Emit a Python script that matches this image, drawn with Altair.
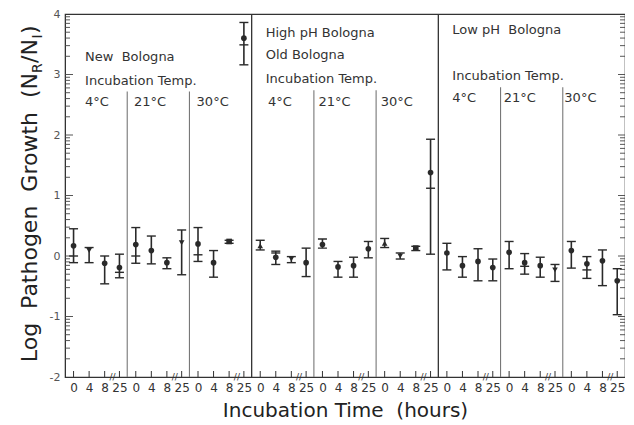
import math
import altair as alt
import pandas as pd

FONT = "DejaVu Sans"
INK = "#2a2a2a"
NB = "\u00a0"

# ---- data ----
time_labels = ["0", "4", "8", "25"]
slot_offsets = [0.55, 1.55, 2.55, 3.5]   # slot of each time inside a temperature block

# 9 blocks (New 4/21/30, Old 4/21/30, Low pH 4/21/30) x 4 times
means = [0.17, 0.09, -0.12, -0.19,
         0.19, 0.09, -0.11, 0.22,
         0.20, -0.11, 0.24, 3.60,
         0.17, -0.02, -0.05, -0.11,
         0.19, -0.18, -0.16, 0.12,
         0.21, 0.00, 0.13, 1.38,
         0.05, -0.16, -0.09, -0.19,
         0.06, -0.11, -0.16, -0.23,
         0.09, -0.13, -0.08, -0.41]
upper = [0.45, 0.14, 0.00, 0.03,
         0.47, 0.33, -0.03, 0.43,
         0.47, 0.09, 0.26, 3.86,
         0.26, 0.08, -0.01, 0.13,
         0.28, -0.09, -0.02, 0.24,
         0.29, 0.05, 0.16, 1.93,
         0.21, -0.01, 0.12, -0.05,
         0.24, 0.04, -0.02, -0.14,
         0.24, -0.01, 0.10, -0.21]
lower = [-0.11, -0.11, -0.46, -0.36,
         -0.12, -0.13, -0.21, -0.31,
         -0.09, -0.35, 0.21, 3.16,
         0.10, -0.14, -0.11, -0.34,
         0.13, -0.35, -0.35, -0.03,
         0.14, -0.05, 0.09, 0.03,
         -0.23, -0.35, -0.41, -0.41,
         -0.21, -0.30, -0.35, -0.42,
         -0.20, -0.37, -0.49, -0.97]
shapes = ["circle", "triangle-down", "circle", "circle",
          "circle", "circle", "circle", "triangle-down",
          "circle", "circle", "square", "circle",
          "triangle-up", "circle", "triangle-down", "circle",
          "circle", "circle", "circle", "circle",
          "triangle-up", "triangle-down", "square", "circle",
          "circle", "circle", "circle", "circle",
          "circle", "circle", "circle", "triangle-down",
          "circle", "circle", "circle", "circle"]
cross_index = [0, 3, 4, 8, 11, 13, 23, 29, 33]
cross_value = [0.00, -0.27, 0.00, 0.02, 3.49, 0.05, 1.12, -0.17, -0.23]

# block dividers
sub_div_x = [4, 8, 16, 20, 28, 32]
sub_div_top = [2.72, 2.72, 2.74, 2.74, 2.79, 2.79]
panel_div_x = [12, 24]

# annotation texts (x in block units, y in data units)
ann_text = ["New" + NB + NB + "Bologna", "Incubation Temp.", "4°C", "21°C", "30°C",
            "High pH Bologna", "Old Bologna", "Incubation Temp.", "4°C", "21°C", "30°C",
            "Low pH" + NB + NB + "Bologna", "Incubation Temp.", "4°C", "21°C", "30°C"]
ann_x = [1.29, 1.29, 1.29, 4.43, 8.46,
         12.9, 12.9, 12.9, 13.05, 16.3, 20.3,
         24.9, 24.9, 24.9, 28.2, 32.1]
ann_y = [3.29, 2.89, 2.55, 2.55, 2.55,
         3.69, 3.33, 2.92, 2.55, 2.55, 2.55,
         3.73, 2.97, 2.61, 2.61, 2.61]

y_major = [-2, -1, 0, 1, 2, 3, 4]

# ---- tables ----
xs_all = [s * 4 + o for s in range(9) for o in slot_offsets]
pts = pd.DataFrame({"x": xs_all, "y": means, "lo": lower, "hi": upper, "shape": shapes})
caps = pd.DataFrame({"x": xs_all + xs_all + [xs_all[i] for i in cross_index],
                     "y": upper + lower + cross_value})
subdiv = pd.DataFrame({"x": sub_div_x, "y": sub_div_top, "y2": [-2] * len(sub_div_x)})
pandiv = pd.DataFrame({"x": panel_div_x, "y": [4] * 2, "y2": [-2] * 2})
ann = pd.DataFrame({"t": ann_text, "x": ann_x, "y": ann_y})
breaks = pd.DataFrame({"x": [s * 4 + 3.05 for s in range(9)], "y": [-2] * 9})
xticks = pd.DataFrame({"x": xs_all})
ymaj = pd.DataFrame({"y": y_major[1:-1]})
ymin = pd.DataFrame({"y": [n + math.log10(k) for n in range(-2, 4) for k in range(2, 10)]})

W, H = 560, 363
xs = alt.Scale(domain=[0, 36], nice=False, zero=False)
ys = alt.Scale(domain=[-2, 4], nice=False, zero=False)

label_expr = ("(datum.value % 4) < 1 ? '0' : (datum.value % 4) < 2 ? '4' : "
              "(datum.value % 4) < 3 ? '8' : '25'")
x_title = "Incubation Time" + NB + NB + "(hours)"

x_axis = alt.Axis(values=xs_all, labelExpr=label_expr, ticks=False, grid=False,
                  labelFontSize=12, labelColor="#333", labelPadding=5, labelFlush=False,
                  title=x_title, titleFontSize=20, titleFontWeight="normal",
                  titleColor="#222", titlePadding=7, domainColor="#333")
y_axis = alt.Axis(values=y_major, labelExpr="datum.value + ''", ticks=False, grid=False,
                  labelFontSize=11, labelColor="#555", labelPadding=5, title="",
                  domainColor="#333")


def X(field):
    return alt.X(field, scale=xs, axis=x_axis, title=x_title)


def Y(field):
    return alt.Y(field, scale=ys, axis=y_axis, title="")


points = alt.Chart(pts).mark_point(filled=True, size=32, color=INK, opacity=1).encode(
    x=X("x:Q"), y=Y("y:Q"),
    shape=alt.Shape("shape:N", scale=None),
)
bars = alt.Chart(pts).mark_rule(color=INK, strokeWidth=1.6).encode(
    x=X("x:Q"), y=Y("lo:Q"), y2="hi:Q",
)
capm = alt.Chart(caps).mark_tick(orient="horizontal", size=9, thickness=1.4, color=INK,
                                 opacity=1).encode(x=X("x:Q"), y=Y("y:Q"))
subl = alt.Chart(subdiv).mark_rule(color="#777", strokeWidth=1.1).encode(
    x=X("x:Q"), y=Y("y:Q"), y2="y2:Q",
)
panl = alt.Chart(pandiv).mark_rule(color="#333", strokeWidth=1.3).encode(
    x=X("x:Q"), y=Y("y:Q"), y2="y2:Q",
)
texts = alt.Chart(ann).mark_text(align="left", baseline="middle", fontSize=13, font=FONT,
                                 color="#333").encode(x=X("x:Q"), y=Y("y:Q"), text="t:N")
brk = alt.Chart(breaks).mark_text(text="//", fontSize=9, font=FONT, color="#333",
                                  baseline="middle", align="center").encode(
    x=X("x:Q"), y=Y("y:Q"),
)
xtk = alt.Chart(xticks).mark_rule(color="#333", strokeWidth=1).encode(
    x=X("x:Q"), y=alt.value(H), y2=alt.value(H - 6),
)


def ytick(df, x0, x1):
    return alt.Chart(df).mark_rule(color="#444", strokeWidth=0.9).encode(
        y=Y("y:Q"), x=alt.value(x0), x2=alt.value(x1))


def title_piece(text, ypx, xpx, size, align):
    return alt.Chart(pd.DataFrame({"t": [text]})).mark_text(
        angle=270, align=align, baseline="alphabetic", fontSize=size, font=FONT,
        color="#222").encode(text="t:N", x=alt.value(xpx), y=alt.value(ypx))


ytitle = [
    title_piece("Log" + NB + " Pathogen" + NB + " Growth" + NB + " (N", 59, -28, 22, "right"),
    title_piece("R", 59, -23, 14, "left"),
    title_piece("/N", 49, -28, 22, "left"),
    title_piece("I", 24.5, -23, 14, "left"),
    title_piece(")", 20, -28, 22, "left"),
]

chart = alt.layer(
    points, subl, panl, bars, capm, texts, brk, xtk,
    ytick(ymaj, 0, 8), ytick(ymin, 0, 5), ytick(ymaj, W, W - 7), ytick(ymin, W, W - 5),
    *ytitle,
).properties(
    width=W, height=H,
    padding={"left": 57, "top": 6, "right": 0, "bottom": 45},
    autosize=alt.AutoSizeParams(type="none"),
).configure_view(stroke="#333", strokeWidth=1.2).configure_axis(
    labelFont=FONT, titleFont=FONT)

chart.save("out.html", embed_options={"renderer": "svg", "actions": False})
